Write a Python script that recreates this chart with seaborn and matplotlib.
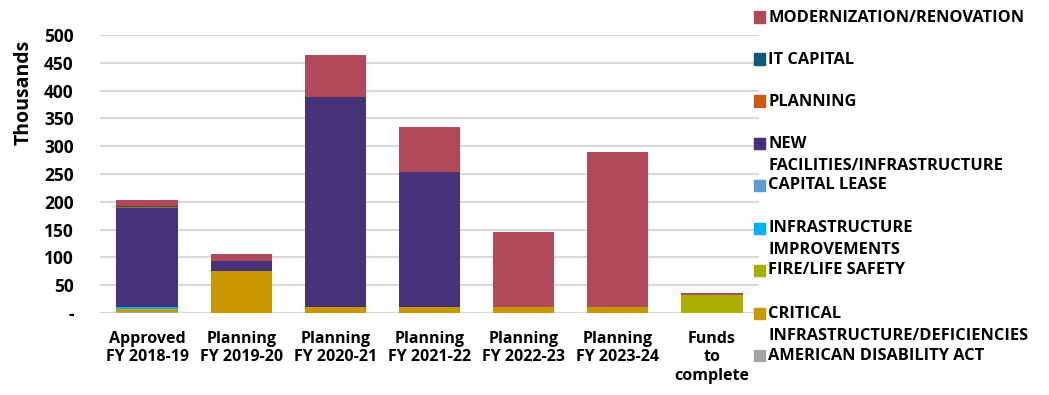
import matplotlib
matplotlib.use("Agg")
import matplotlib.pyplot as plt
import seaborn as sns
import numpy as np
import pandas as pd
from matplotlib.patches import Rectangle

categories = ["Approved\nFY 2018-19", "Planning\nFY 2019-20", "Planning\nFY 2020-21",
              "Planning\nFY 2021-22", "Planning\nFY 2022-23", "Planning\nFY 2023-24",
              "Funds\nto\ncomplete"]

# stack order bottom -> top
ada = [1, 0, 0, 0, 0, 0, 0]
critical = [4, 76, 10, 10, 10, 10, 0]
fire_life = [3, 0, 0, 0, 0, 0, 32.5]
infra_impr = [3.5, 0, 0, 0, 0, 0, 0]
capital_lease = [0, 0, 0, 0, 0, 0, 0]
new_fac = [177, 17, 378, 244, 0, 0, 0]
planning = [1.5, 0, 0, 0, 0, 0, 0]
it_capital = [3, 1, 0, 0, 0, 0, 0]
modernization = [9.5, 12, 76, 80, 135, 279, 3]

series_names = ["AMERICAN DISABILITY ACT", "CRITICAL\nINFRASTRUCTURE/DEFICIENCIES",
                "FIRE/LIFE SAFETY", "INFRASTRUCTURE\nIMPROVEMENTS", "CAPITAL LEASE",
                "NEW\nFACILITIES/INFRASTRUCTURE", "PLANNING", "IT CAPITAL",
                "MODERNIZATION/RENOVATION"]
series_vals = [ada, critical, fire_life, infra_impr, capital_lease, new_fac,
               planning, it_capital, modernization]
colors = ["#A5A5A5", "#C99700", "#A9AE00", "#00B0F0", "#5B9BD5",
          "#463278", "#C85A14", "#0E5A78", "#B04A5A"]

sns.set_theme(style="white")
plt.rcParams['font.family'] = ['Open Sans', 'DejaVu Sans']
plt.rcParams['font.weight'] = 'bold'

fig = plt.figure(figsize=(10.49, 3.95), dpi=100)
ax = fig.add_axes([100/1049, 1-313/395, 659/1049, 278/395])

cum = np.cumsum(np.array(series_vals, dtype=float), axis=0)
for i in range(len(series_vals)-1, -1, -1):
    df = pd.DataFrame({"cat": categories, "val": cum[i]})
    sns.barplot(data=df, x="cat", y="val", color=colors[i], width=0.65,
                linewidth=0, saturation=1, ax=ax, zorder=3)

ax.set_ylim(0, 500)
ax.set_xlim(-0.5, 6.5)
yt = np.arange(0, 501, 50)
ax.set_yticks(yt)
ax.set_yticklabels(["-"] + [str(v) for v in yt[1:]])
ax.yaxis.grid(True, color="#D9D9D9", linewidth=1.5, zorder=0)
ax.xaxis.grid(False)
for s in ax.spines.values():
    s.set_visible(False)
ax.tick_params(axis='y', length=0, pad=19, labelsize=12.5, labelcolor="#000000")
ax.tick_params(axis='x', length=0, pad=13, labelsize=11.5, labelcolor="#000000")
for lab in ax.get_xticklabels() + ax.get_yticklabels():
    lab.set_fontweight('bold')
ax.set_xlabel("")
ax.set_ylabel("Thousands", fontsize=14, fontweight='bold', color="#000000")
ax.yaxis.set_label_coords(-0.101, 0.795)

# manual legend
leg_y = [17, 59, 101, 143, 185, 228, 270, 313, 355]
order = list(range(len(series_names)-1, -1, -1))
for yy, idx in zip(leg_y, order):
    fig.patches.append(Rectangle((754/1049, 1-(yy+5.5)/395), 11/1049, 11/395,
                                 transform=fig.transFigure, color=colors[idx]))
    fig.text(768/1049, 1-(yy-7.5)/395, series_names[idx], fontsize=11.8, fontweight='bold',
             va='top', ha='left', color="#000000", linespacing=1.5)

fig.savefig("out.png", dpi=100)
